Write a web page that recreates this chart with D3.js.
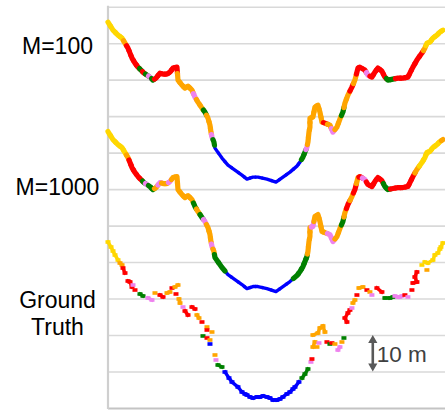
<!DOCTYPE html>
<html><head><meta charset="utf-8">
<script src="https://cdn.jsdelivr.net/npm/d3@7"></script>
<style>body{margin:0;background:#fff}svg{display:block}</style>
</head><body><svg id="c" width="445" height="411"></svg>
<script>
// ---------- data ----------
const panelLabels = [["M=100"], ["M=1000"], ["Ground", "Truth"]];
const panelOffsets = [60, 30, 0];            // vertical shift of each profile, metres
const gridLevels = [0,10,20,30,40,50,60,70,80,90,100,110]; // metres
const scaleBarFrom = 10, scaleBarTo = 20, scaleBarLabel = "10 m";
const classColors = {Y:"#FFD700", O:"#FFA500", R:"#FF0000", G:"#008000", P:"#EE82EE", B:"#0000FF"};

// predicted terrain profile (distance along profile, elevation) in metres
const predX = [0,1.37,2.74,3.84,4.66,5.48,6.03,6.58,7.40,8.22,9.05,9.87,10.69,11.51,12.33,13.16,14.25,15.08,16.17,16.99,
  17.82,18.91,19.19,20.28,21.11,21.93,23.02,23.85,24.67,25.77,26.59,27.41,27.96,28.23,28.51,29.05,29.33,31.25,32.89,34.81,
  36.73,38.10,39.74,41.12,43.58,46.05,47.97,49.89,51.80,52.63,53.45,54.00,54.55,54.82,55.10,55.37,55.37,56.19,56.74,57.56,
  58.11,58.66,59.48,60.85,61.67,62.77,63.59,64.41,64.96,65.78,66.88,67.70,68.53,69.07,70.44,71.27,72.36,73.18,74.01,75.10,
  75.92,76.75,78.12,79.49,80.86,82.23,82.78,83.60,84.70,86.07,86.89,87.44,88.26,89.08,90.18,91.00,91.82];
const predZ = [45.77,43.58,42.21,41.39,40.02,38.65,37.28,35.91,34.54,33.44,32.62,31.80,31.25,30.70,29.88,30.42,31.80,31.52,31.52,32.07,
  33.17,33.44,29.88,28.51,27.68,28.23,27.14,25.22,23.85,22.20,21.11,19.46,17.54,15.62,14.25,12.88,11.24,8.50,6.58,5.21,
  3.84,2.74,3.29,3.29,2.74,1.92,3.29,4.66,6.30,7.40,8.77,10.14,11.51,12.88,15.62,16.99,19.46,19.74,22.48,23.02,
  21.11,18.36,18.09,17.54,15.62,16.99,19.19,21.11,23.57,25.77,27.96,29.88,33.17,33.44,32.62,31.25,30.70,32.07,33.17,32.34,
  30.70,29.88,30.15,30.42,30.42,30.70,31.80,33.44,35.36,37.28,38.65,40.02,40.29,41.39,42.21,43.03,43.58];
const classM100 = ("YYYYORRRRRGRGPGRRRRRRROOOOOPOOGOOOPG" + "BBBBBBBBBBBBBB" +
  "GGPOOOOOOOOOROPOOGOOROR" + "RRPRRRRRGGRRRRRRROYYYYYY").split("");
const classM1000 = ("YYYYYORRRRRGPGGOPOOPOOOOOOOGOGPOOOPOGG" + "BBBBBBBBBB" +
  "GGGGGOOOOPOOOOOPPOOGOROROR" + "PRRRRRGGRRRRRROYYYYYYY").split("");

// ground truth points (metres)
const gtX = [0,0.82,1.37,1.92,2.74,3.29,3.84,4.11,4.66,5.48,6.03,6.58,6.85,7.40,8.77,9.59,10.96,12.06,12.88,14.25,15.08,16.17,
  16.99,17.54,18.36,19.19,18.64,19.46,19.74,20.56,21.11,21.93,23.02,23.85,24.39,24.94,25.77,27.14,27.14,28.51,26.04,27.14,
  27.96,27.96,29.33,29.60,30.15,31.25,
  32.07,33.17,33.99,35.63,36.73,37.55,38.10,38.92,39.74,40.84,41.66,42.49,43.58,44.40,45.23,46.32,47.15,47.97,49.06,49.89,50.71,51.26,52.35,
  53.18,54.00,54.82,55.64,55.92,
  56.19,56.74,56.19,57.56,58.11,58.94,59.48,57.84,57.29,60.03,60.85,61.40,62.22,63.04,63.59,64.14,64.69,
  65.51,64.96,65.78,66.33,66.88,67.16,67.70,68.25,68.80,69.90,70.99,71.81,72.36,73.73,75.10,75.92,77.30,78.12,78.67,79.49,
  80.04,80.59,81.41,82.23,83.33,83.60,84.70,84.15,84.70,86.07,87.44,86.89,87.71,89.08,89.63,90.45,91.00,91.28,91.82];
const gtZ = [45.50,44.13,43.03,41.94,40.57,39.74,39.20,38.37,37.00,34.81,34.54,33.17,33.71,32.34,31.25,30.70,30.15,29.60,31.52,30.97,30.43,31.52,
  31.80,32.89,33.17,33.71,31.25,29.88,28.78,27.68,26.59,25.49,27.68,27.14,25.49,24.67,23.57,22.20,21.38,20.83,19.74,19.19,
  18.64,17.54,14.53,13.16,11.79,11.24,
  9.87,8.22,7.13,5.76,4.39,3.84,3.56,3.02,2.74,3.02,3.02,3.29,3.02,2.74,2.19,2.19,2.47,3.02,3.84,4.39,5.21,5.76,7.13,
  8.22,9.32,10.69,12.61,13.43,
  16.72,18.09,20.01,20.56,21.93,22.48,20.83,17.82,16.72,18.09,17.54,17.82,17.54,15.90,16.72,18.09,19.19,
  23.57,24.67,26.04,26.86,27.41,28.78,29.60,30.97,32.89,33.17,32.34,31.80,30.97,32.89,31.80,30.15,30.15,30.43,30.70,30.43,
  30.43,30.70,30.97,30.43,32.34,34.26,34.54,35.91,37.28,39.20,37.83,40.02,39.74,40.57,41.94,42.49,43.58,44.13,45.23];
const gtClass = ("YYYYYOO" + "RRRRRPRGGPPORROOROOROOPRRRROOROROGROBOPGG" + "BBBBBBBBBBBBBBBBBBBBBBB" + "GGGPR" +
  "OOOOOOOPORGROPPOG" + "RRRRPOOROOROPRRGGGPPPPRP" + "RRRRR" + "YO" + "YYYYYYYY").split("");

// ---------- drawing ----------
const W = 445, H = 411;
const svg = d3.select("#c");
const x = d3.scaleLinear().domain([0, 92.4]).range([108, 445]);
const y = d3.scaleLinear().domain([0, 110]).range([408, 6.7]);

const grid = svg.append("g").attr("transform", "translate(108,0)")
  .call(d3.axisLeft(y).tickValues(gridLevels).tickSize(-(W - 108)).tickFormat(""));
grid.select(".domain").remove();
grid.selectAll(".tick line")
  .attr("stroke", d => d === 0 ? "#c4c4c4" : "#d9d9d9")
  .attr("stroke-width", d => d === 0 ? 2.2 : 1.6);
svg.append("line").attr("x1", 108).attr("x2", 108).attr("y1", y(110) - 1).attr("y2", y(0) + 1)
  .attr("stroke", "#cfcfcf").attr("stroke-width", 2.2);

function drawPredicted(offset, classes) {
  const pts = predX.map((d, i) => ({px: x(d), py: y(predZ[i] + offset), c: classes[i] || "O"}));
  const g = svg.append("g");
  const order = d3.range(pts.length).sort((a, b) => (pts[a].c === "B" ? 0 : 1) - (pts[b].c === "B" ? 0 : 1));
  order.forEach(i => {
    const p = pts[i], prev = pts[i - 1], next = pts[i + 1];
    const a = prev ? [(prev.px + p.px) / 2, (prev.py + p.py) / 2] : [p.px, p.py];
    const b = next ? [(next.px + p.px) / 2, (next.py + p.py) / 2] : [p.px, p.py];
    g.append("path").attr("d", d3.line()([a, [p.px, p.py], b]))
      .attr("fill", "none").attr("stroke", classColors[p.c])
      .attr("stroke-width", p.c === "B" ? 3.4 : 5.2)
      .attr("stroke-linecap", "round").attr("stroke-linejoin", "round");
  });
}
drawPredicted(panelOffsets[0], classM100);
drawPredicted(panelOffsets[1], classM1000);

// ground truth
(function () {
  const off = panelOffsets[2];
  const pts = gtX.map((d, i) => ({px: x(d), py: y(gtZ[i] + off), c: gtClass[i] || "O"}));
  const g = svg.append("g");
  for (let i = 1; i < pts.length; i++) {
    const a = pts[i - 1], b = pts[i];
    if (a.c === b.c && Math.hypot(a.px - b.px, a.py - b.py) < (a.c === "B" ? 10 : 7)) {
      g.append("line").attr("x1", a.px).attr("y1", a.py).attr("x2", b.px).attr("y2", b.py)
        .attr("stroke", classColors[a.c]).attr("stroke-width", 3.4).attr("stroke-linecap", "square");
    }
  }
  g.selectAll("rect").data(pts).join("rect")
    .attr("x", d => d.px - 2.5).attr("y", d => d.py - 1.8).attr("width", 5).attr("height", 3.6)
    .attr("fill", d => classColors[d.c]);
})();

// labels
const labelFont = "'Liberation Sans', Arial, sans-serif";
const labelBaselines = [53.5, 195, 308];
panelLabels.forEach((lines, k) => {
  const t = svg.append("text").attr("x", 57.5).attr("y", labelBaselines[k])
    .attr("text-anchor", "middle").attr("font-family", labelFont).attr("font-size", 23).attr("fill", "#000");
  lines.forEach((s, j) => t.append("tspan").attr("x", 57.5).attr("dy", j === 0 ? 0 : 27).text(s));
});

// scale bar
const sbX = x(72.6), sbTop = y(scaleBarTo), sbBot = y(scaleBarFrom);
const sbCol = "#595959";
svg.append("line").attr("x1", sbX).attr("x2", sbX).attr("y1", sbTop + 5).attr("y2", sbBot - 5)
  .attr("stroke", sbCol).attr("stroke-width", 2.6);
svg.append("path").attr("fill", sbCol)
  .attr("d", `M${sbX},${sbTop} L${sbX - 4.6},${sbTop + 8} L${sbX + 4.6},${sbTop + 8} Z M${sbX},${sbBot} L${sbX - 4.6},${sbBot - 8} L${sbX + 4.6},${sbBot - 8} Z`);
svg.append("text").attr("x", sbX + 4).attr("y", 362).attr("font-family", labelFont)
  .attr("font-size", 22.5).attr("fill", "#404040").text(scaleBarLabel);
</script></body></html>
